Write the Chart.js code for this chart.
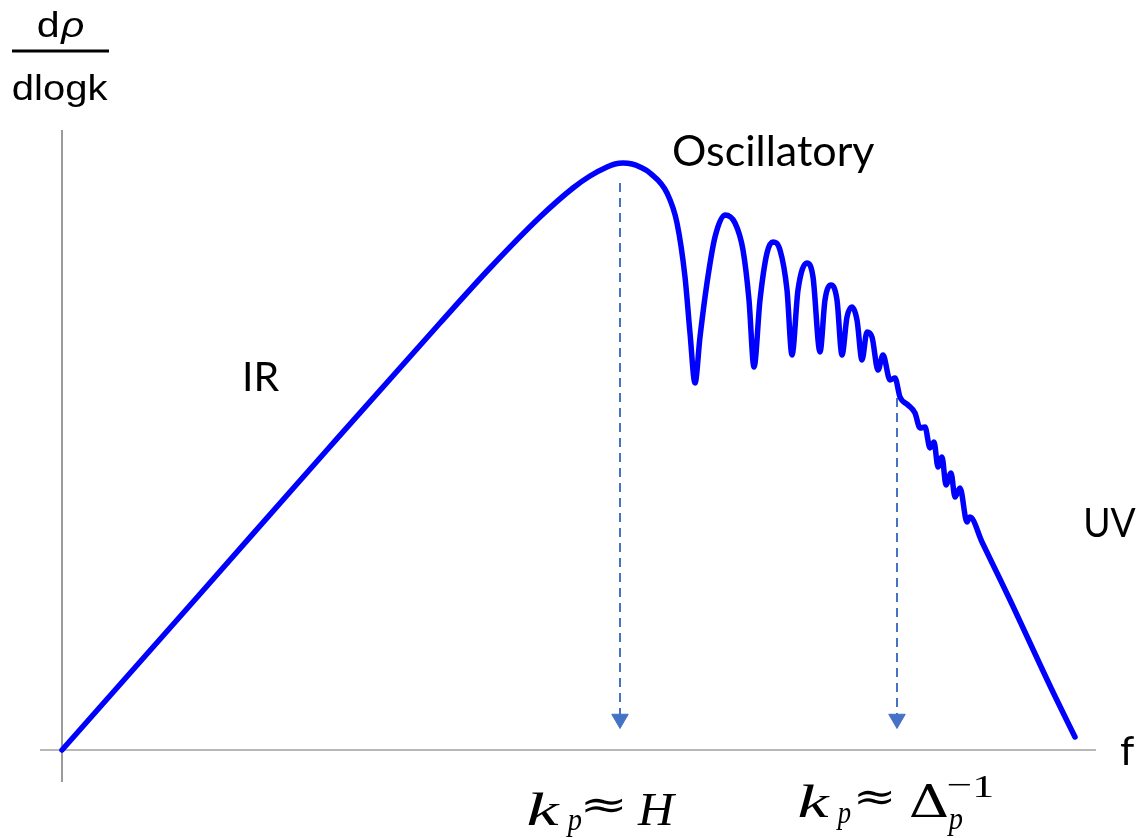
<!DOCTYPE html>
<html>
<head>
<meta charset="utf-8">
<title>dρ/dlogk spectrum</title>
<script src="https://cdn.jsdelivr.net/npm/chart.js@4.4.1/dist/chart.umd.min.js"></script>
<style>
  html, body { margin: 0; padding: 0; background: #fff; }
  canvas { display: block; }
</style>
</head>
<body>
<canvas id="spec" width="1139" height="838"></canvas>
<script>
// spectrum shape: frequency f (arbitrary units) vs dρ/dlogk
const freq = [
  0, 1.38, 2.65, 3.78, 4.28, 4.78, 5.11, 5.28, 5.45, 5.53, 5.61, 5.70, 5.78, 5.88, 6.05, 6.15, 6.23, 6.28, 6.33,
  6.38, 6.45, 6.53, 6.63, 6.73, 6.81, 6.87, 6.92, 6.98, 7.05, 7.11, 7.18, 7.25, 7.30,
  7.36, 7.45, 7.51, 7.58, 7.63, 7.69, 7.75, 7.80, 7.85, 7.90, 7.95, 8.00, 8.05, 8.10, 8.16,
  8.21, 8.28, 8.33, 8.38, 8.46, 8.53, 8.58, 8.63, 8.68, 8.72, 8.76, 8.80, 8.84, 8.89, 8.93,
  8.98, 9.05, 9.08, 9.20, 9.35, 9.48, 9.90, 10.13
];
const rho = [
  0, 1.56, 3.00, 4.27, 4.82, 5.33, 5.62, 5.74, 5.83, 5.86, 5.87, 5.86, 5.83, 5.77, 5.57, 5.27, 4.73, 4.17, 3.67,
  4.13, 4.67, 5.13, 5.35, 5.27, 5.00, 4.50, 3.83, 4.50, 4.97, 5.08, 5.00, 4.60, 3.95,
  4.60, 4.87, 4.73, 3.98, 4.50, 4.65, 4.50, 3.95, 4.33, 4.43, 4.30, 3.90, 4.18, 4.13, 3.80,
  3.95, 3.70, 3.72, 3.53, 3.45, 3.37, 3.22, 3.23, 3.02, 3.08, 2.83, 2.93, 2.65, 2.77, 2.53,
  2.62, 2.28, 2.33, 2.08, 1.77, 1.50, 0.60, 0.13
];

// dashed markers: k_p ≈ H and k_p ≈ Δ_p^-1
const markerF = [5.58, 8.35];
const markerTop = [5.67, 3.52];
const markerBottom = 0.31;

const BLUE = '#0000ff';
const DASH = '#4472c4';

const markerSets = markerF.map((f, i) => ({
  data: [{ x: f, y: markerTop[i] }, { x: f, y: markerBottom }],
  borderColor: DASH,
  backgroundColor: DASH,
  borderWidth: 2,
  borderDash: [9, 6],
  pointStyle: 'triangle',
  pointRotation: 180,
  pointRadius: [0, 9.5],
  pointBorderWidth: 1,
  pointBorderColor: DASH,
  pointBackgroundColor: DASH,
  order: 2
}));

// axis lines, drawn under the curve
const axesPlugin = {
  id: 'axes',
  beforeDatasetsDraw(chart) {
    const { ctx, scales: { x, y } } = chart;
    ctx.save();
    ctx.lineWidth = 1.5;
    ctx.strokeStyle = '#a0a0a0';
    ctx.beginPath();
    ctx.moveTo(x.getPixelForValue(-0.22), y.getPixelForValue(0));
    ctx.lineTo(x.getPixelForValue(10.34), y.getPixelForValue(0));
    ctx.stroke();
    ctx.strokeStyle = '#7a7a7a';
    ctx.beginPath();
    ctx.moveTo(x.getPixelForValue(0), y.getPixelForValue(6.2));
    ctx.lineTo(x.getPixelForValue(0), y.getPixelForValue(-0.32));
    ctx.stroke();
    ctx.restore();
  }
};

// draw text so its ink spans x0..x1 (glyphs are stretched sideways)
function fit(ctx, txt, font, x0, x1, py, base) {
  ctx.font = font;
  ctx.textAlign = 'left';
  ctx.textBaseline = base || 'alphabetic';
  const m = ctx.measureText(txt);
  const ink = m.actualBoundingBoxLeft + m.actualBoundingBoxRight;
  ctx.save();
  ctx.translate(x0, py);
  ctx.scale((x1 - x0) / ink, 1);
  ctx.fillText(txt, m.actualBoundingBoxLeft, 0);
  ctx.restore();
}

// text: axis titles, region names and the two k_p labels
const labelPlugin = {
  id: 'labels',
  afterDraw(chart) {
    const { ctx, scales: { x } } = chart;
    ctx.save();
    ctx.fillStyle = '#000';

    // y axis title as a fraction
    const sans = '35px "Liberation Sans"';
    fit(ctx, 'd', sans, 38, 58, 37);
    fit(ctx, 'ρ', 'italic 35px "Liberation Sans"', 60, 83, 37);
    ctx.fillRect(12, 49.5, 97, 3);
    fit(ctx, 'dlogk', sans, 13, 108, 100);

    ctx.textAlign = 'left';
    ctx.textBaseline = 'alphabetic';
    ctx.font = '43px Lato';
    ctx.fillText('Oscillatory', 672, 166);
    ctx.font = '41px Lato';
    ctx.fillText('IR', 242, 391);
    ctx.fillText('f', 1120, 765);
    fit(ctx, 'UV', '41px Lato', 1086, 1136, 537);

    const it = 'italic 46px "Liberation Serif"';
    const sub = 'italic 32px "Liberation Serif"';
    const rel = '40px "DejaVu Serif"';

    // k_p ≈ H under the first marker
    const a = x.getPixelForValue(markerF[0]);
    fit(ctx, 'k', it, a - 92, a - 59, 825);
    fit(ctx, 'p', sub, a - 54, a - 38, 830);
    fit(ctx, '≈', rel, a - 35, a + 3, 808, 'middle');
    fit(ctx, 'H', it, a + 17, a + 57, 825);

    // k_p ≈ Δ_p^-1 under the second marker
    const b = x.getPixelForValue(markerF[1]);
    fit(ctx, 'k', it, b - 98, b - 66, 817);
    fit(ctx, 'p', sub, b - 61, b - 46, 823);
    fit(ctx, '≈', rel, b - 39, b - 5, 800, 'middle');
    fit(ctx, 'Δ', '44px "DejaVu Serif"', b + 13, b + 50, 817);
    fit(ctx, 'p', sub, b + 50, b + 66, 829);
    fit(ctx, '−', '31px "Liberation Serif"', b + 51, b + 73, 787, 'middle');
    fit(ctx, '1', '31px "Liberation Serif"', b + 78, b + 95, 797);
    ctx.restore();
  }
};

new Chart(document.getElementById('spec'), {
  type: 'line',
  data: {
    datasets: [
      {
        data: freq.map((f, i) => ({ x: f, y: rho[i] })),
        borderColor: BLUE,
        borderWidth: 5.5,
        borderCapStyle: 'round',
        borderJoinStyle: 'round',
        pointRadius: 0,
        cubicInterpolationMode: 'monotone',
        fill: false,
        order: 1
      },
      ...markerSets
    ]
  },
  options: {
    responsive: false,
    animation: false,
    devicePixelRatio: 1,
    layout: { padding: 0, autoPadding: false },
    plugins: { legend: { display: false }, tooltip: { enabled: false } },
    scales: {
      x: { type: 'linear', min: -0.62, max: 10.77, display: false },
      y: { type: 'linear', min: -0.88, max: 7.5, display: false }
    }
  },
  plugins: [axesPlugin, labelPlugin]
});
</script>
</body>
</html>
